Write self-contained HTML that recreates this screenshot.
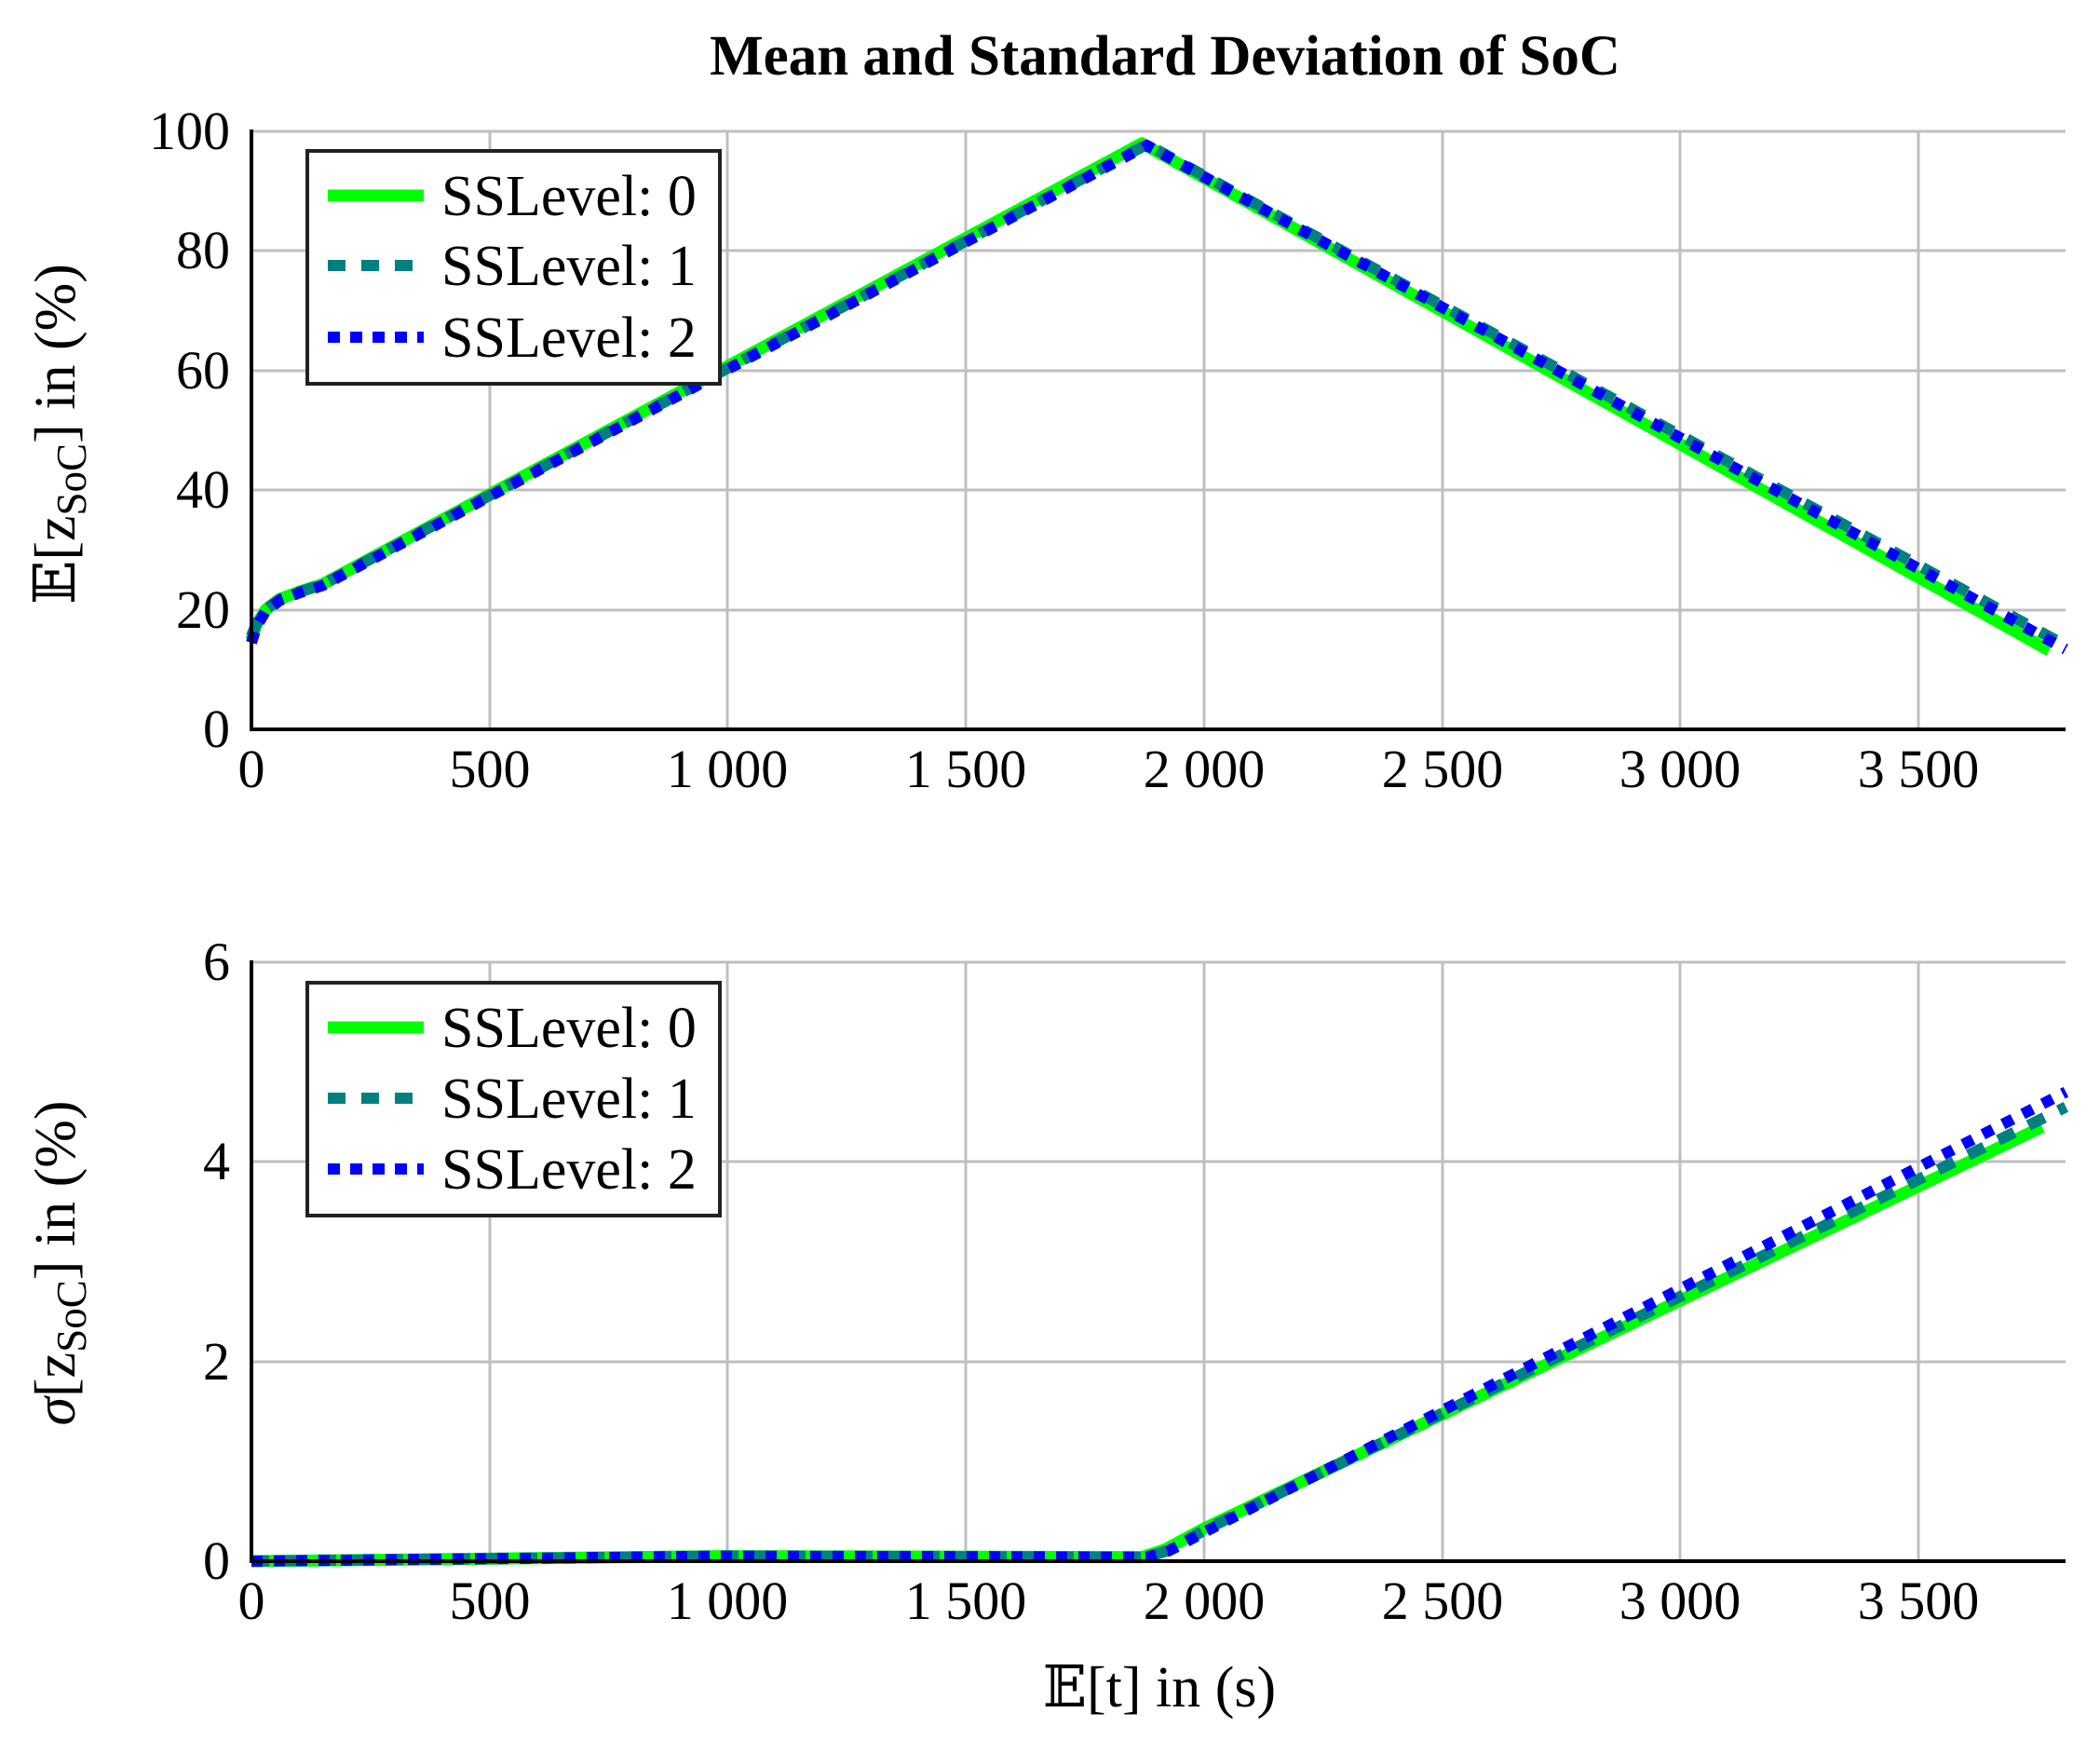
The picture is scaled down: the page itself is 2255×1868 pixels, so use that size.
<!DOCTYPE html>
<html><head><meta charset="utf-8"><style>
body{margin:0;background:#fff;}
svg text{font-family:"Liberation Serif","DejaVu Serif",serif;fill:#000;}
</style></head><body>
<svg width="2255" height="1863" viewBox="0 0 2255 1863" xmlns="http://www.w3.org/2000/svg">
<rect width="2255" height="1863" fill="#fff"/>
<text x="1251" y="80" font-size="61" font-weight="bold" text-anchor="middle">Mean and Standard Deviation of SoC</text>

<!-- TOP grid -->
<g stroke="#bfbfbf" stroke-width="3">
<line x1="270" y1="141" x2="2218" y2="141"/><line x1="270" y1="269" x2="2218" y2="269"/>
<line x1="270" y1="398" x2="2218" y2="398"/><line x1="270" y1="526" x2="2218" y2="526"/>
<line x1="270" y1="655" x2="2218" y2="655"/>
<line x1="526" y1="141" x2="526" y2="783"/><line x1="781" y1="141" x2="781" y2="783"/>
<line x1="1037" y1="141" x2="1037" y2="783"/><line x1="1293" y1="141" x2="1293" y2="783"/>
<line x1="1549" y1="141" x2="1549" y2="783"/><line x1="1804" y1="141" x2="1804" y2="783"/>
<line x1="2060" y1="141" x2="2060" y2="783"/>
</g>
<g fill="none" stroke-linejoin="round">
<polyline points="270,686.7 275.1,671 285.3,654.6 300.7,643 321.1,635.3 346.7,627 1226.3,153.8 2200.5,698.3" stroke="#00ff00" stroke-width="13"/>
<polyline points="270,683 275.1,670 285.3,654 300.7,643 321.1,635.5 346.7,627.5 1231.4,155 2218,693" stroke="#008080" stroke-width="12" stroke-dasharray="19,17"/>
<polyline points="270,690 275.1,673 285.3,656 300.7,644.5 321.1,636.5 346.7,628.5 1231.4,156 2218,697" stroke="#0000ff" stroke-width="12" stroke-dasharray="12,12"/>
</g>
<g stroke="#000" stroke-width="4" fill="none"><line x1="270" y1="139" x2="270" y2="785"/><line x1="268" y1="783" x2="2218" y2="783"/></g>
<g font-size="58" text-anchor="end">
<text x="247" y="160">100</text><text x="247" y="288">80</text><text x="247" y="417">60</text>
<text x="247" y="545">40</text><text x="247" y="674">20</text><text x="247" y="802">0</text>
</g>
<g font-size="58" text-anchor="middle">
<text x="270" y="845">0</text><text x="526" y="845">500</text><text x="781" y="845">1 000</text>
<text x="1037" y="845">1 500</text><text x="1293" y="845">2 000</text><text x="1549" y="845">2 500</text>
<text x="1804" y="845">3 000</text><text x="2060" y="845">3 500</text>
</g>
<text transform="translate(80,466) rotate(-90)" font-size="62" text-anchor="middle" fill="#222">𝔼[z<tspan font-size="45" dy="12">SoC</tspan><tspan dy="-12">] in (%)</tspan></text>
<rect x="330" y="162" width="443" height="250" fill="#fff" stroke="#222" stroke-width="4"/>
<line x1="352" y1="210" x2="455" y2="210" stroke="#00ff00" stroke-width="13"/>
<line x1="352" y1="285" x2="455" y2="285" stroke="#008080" stroke-width="12" stroke-dasharray="19,17"/>
<line x1="352" y1="362" x2="455" y2="362" stroke="#0000ff" stroke-width="12" stroke-dasharray="13,11"/>
<g font-size="62"><text x="474" y="231">SSLevel: 0</text><text x="474" y="306">SSLevel: 1</text><text x="474" y="383">SSLevel: 2</text></g>

<!-- BOTTOM -->
<g stroke="#bfbfbf" stroke-width="3">
<line x1="270" y1="1033" x2="2218" y2="1033"/><line x1="270" y1="1247" x2="2218" y2="1247"/>
<line x1="270" y1="1462" x2="2218" y2="1462"/>
<line x1="526" y1="1033" x2="526" y2="1676"/><line x1="781" y1="1033" x2="781" y2="1676"/>
<line x1="1037" y1="1033" x2="1037" y2="1676"/><line x1="1293" y1="1033" x2="1293" y2="1676"/>
<line x1="1549" y1="1033" x2="1549" y2="1676"/><line x1="1804" y1="1033" x2="1804" y2="1676"/>
<line x1="2060" y1="1033" x2="2060" y2="1676"/>
</g>
<g fill="none" stroke-linejoin="round">
<polyline points="270,1676 781.4,1670.6 1226,1671.7 1250,1664 1292.8,1641 2192.9,1209.8" stroke="#00ff00" stroke-width="13"/>
<polyline points="270,1676 781.4,1670.6 1231,1671.7 1255,1664.5 1292.8,1643 2218.4,1188.4" stroke="#008080" stroke-width="12" stroke-dasharray="19,17"/>
<polyline points="270,1676 781.4,1670.6 1231,1671.7 1255,1665 1292.8,1645 2218.4,1172.3" stroke="#0000ff" stroke-width="12" stroke-dasharray="12,12"/>
</g>
<g stroke="#000" stroke-width="4" fill="none"><line x1="270" y1="1031" x2="270" y2="1678"/><line x1="268" y1="1676" x2="2218" y2="1676"/></g>
<g font-size="58" text-anchor="end">
<text x="247" y="1052">6</text><text x="247" y="1266">4</text><text x="247" y="1481">2</text><text x="247" y="1695">0</text>
</g>
<g font-size="58" text-anchor="middle">
<text x="270" y="1738">0</text><text x="526" y="1738">500</text><text x="781" y="1738">1 000</text>
<text x="1037" y="1738">1 500</text><text x="1293" y="1738">2 000</text><text x="1549" y="1738">2 500</text>
<text x="1804" y="1738">3 000</text><text x="2060" y="1738">3 500</text>
</g>
<text x="1245" y="1832" font-size="62" text-anchor="middle" fill="#222">𝔼[t] in (s)</text>
<text transform="translate(80,1356) rotate(-90)" font-size="62" text-anchor="middle" fill="#222"><tspan font-style="italic">σ</tspan>[z<tspan font-size="45" dy="12">SoC</tspan><tspan dy="-12">] in (%)</tspan></text>
<rect x="330" y="1055" width="443" height="250" fill="#fff" stroke="#222" stroke-width="4"/>
<line x1="352" y1="1103" x2="455" y2="1103" stroke="#00ff00" stroke-width="13"/>
<line x1="352" y1="1179" x2="455" y2="1179" stroke="#008080" stroke-width="12" stroke-dasharray="19,17"/>
<line x1="352" y1="1255" x2="455" y2="1255" stroke="#0000ff" stroke-width="12" stroke-dasharray="13,11"/>
<g font-size="62"><text x="474" y="1124">SSLevel: 0</text><text x="474" y="1200">SSLevel: 1</text><text x="474" y="1276">SSLevel: 2</text></g>
</svg>
</body></html>
